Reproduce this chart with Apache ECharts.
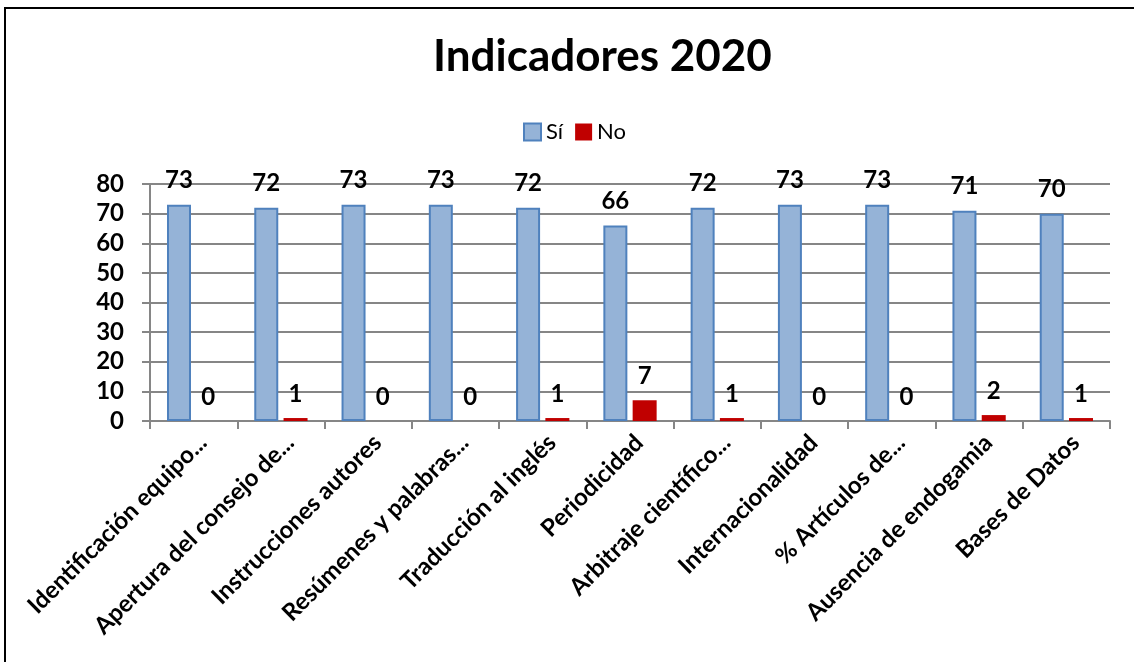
<!DOCTYPE html>
<html>
<head>
    <meta charset="utf-8">
    <title>Indicadores 2020</title>
    <script src="https://cdn.jsdelivr.net/npm/echarts@6/dist/echarts.min.js"></script>
    <style>
        html, body { margin: 0; padding: 0; background: #fff; }
    </style>
</head>
<body>
    <div id="main" style="width:1134px;height:662px;"></div>
    <script type="text/javascript">
        var categories = [
            'Identificación equipo...',
            'Apertura del consejo de...',
            'Instrucciones autores',
            'Resúmenes y palabras...',
            'Traducción al inglés',
            'Periodicidad',
            'Arbitraje científico...',
            'Internacionalidad',
            '% Artículos de...',
            'Ausencia de endogamia',
            'Bases de Datos'
        ];
        var siValues = [73, 72, 73, 73, 72, 66, 72, 73, 73, 71, 70];
        var noValues = [0, 1, 0, 0, 1, 7, 1, 0, 0, 2, 1];
        var yTicks = [0, 10, 20, 30, 40, 50, 60, 70, 80];

        var font = 'Lato, "Open Sans", sans-serif';
        var labelStyle = {
            show: true,
            position: 'top',
            distance: 12,
            color: '#000',
            fontFamily: font,
            fontWeight: 'bold',
            fontSize: 24
        };

        var myChart = echarts.init(document.getElementById('main'));
        var option = {
            animation: false,
            backgroundColor: '#fff',
            title: {
                text: 'Indicadores 2020',
                left: 428,
                top: 30,
                textStyle: { fontFamily: font, fontWeight: 'bold', fontSize: 44, color: '#000' }
            },
            legend: {
                top: 121,
                left: 523,
                padding: 0,
                itemWidth: 17,
                itemHeight: 17,
                itemGap: 12,
                textStyle: { fontFamily: font, fontSize: 22, color: '#000' },
                data: [
                    { name: 'Sí', icon: 'rect' },
                    { name: 'No', icon: 'rect' }
                ]
            },
            grid: { left: 150, right: 24, top: 184, bottom: 241, containLabel: false },
            xAxis: {
                type: 'category',
                data: categories,
                axisLine: { lineStyle: { color: '#868686', width: 2 } },
                axisTick: { show: true, alignWithLabel: false, length: 8, lineStyle: { color: '#868686', width: 2 } },
                axisLabel: {
                    interval: 0,
                    rotate: 45,
                    margin: 27,
                    padding: [0, -13, 0, 0],
                    color: '#000',
                    fontFamily: font,
                    fontWeight: 'bold',
                    fontSize: 24
                }
            },
            yAxis: {
                type: 'value',
                min: yTicks[0],
                max: yTicks[yTicks.length - 1],
                interval: 10,
                axisLine: { show: true, lineStyle: { color: '#868686', width: 2 } },
                axisTick: { show: true, length: 8, lineStyle: { color: '#868686', width: 2 } },
                splitLine: { lineStyle: { color: '#868686', width: 2 } },
                axisLabel: {
                    margin: 26,
                    color: '#000',
                    fontFamily: font,
                    fontWeight: 'bold',
                    fontSize: 24
                }
            },
            series: [
                {
                    name: 'Sí',
                    type: 'bar',
                    data: siValues,
                    barWidth: 24,
                    barGap: '22%',
                    itemStyle: { color: '#95B3D7', borderColor: '#4F81BD', borderWidth: 2 },
                    label: labelStyle
                },
                {
                    name: 'No',
                    type: 'bar',
                    data: noValues,
                    barWidth: 24,
                    itemStyle: { color: '#C00000' },
                    label: labelStyle
                }
            ],
            graphic: [
                {
                    type: 'rect',
                    shape: { x: 5, y: 8, width: 1140, height: 700 },
                    style: { fill: null, stroke: '#000', lineWidth: 2 },
                    silent: true
                }
            ]
        };
        myChart.setOption(option);
    </script>
</body>
</html>
